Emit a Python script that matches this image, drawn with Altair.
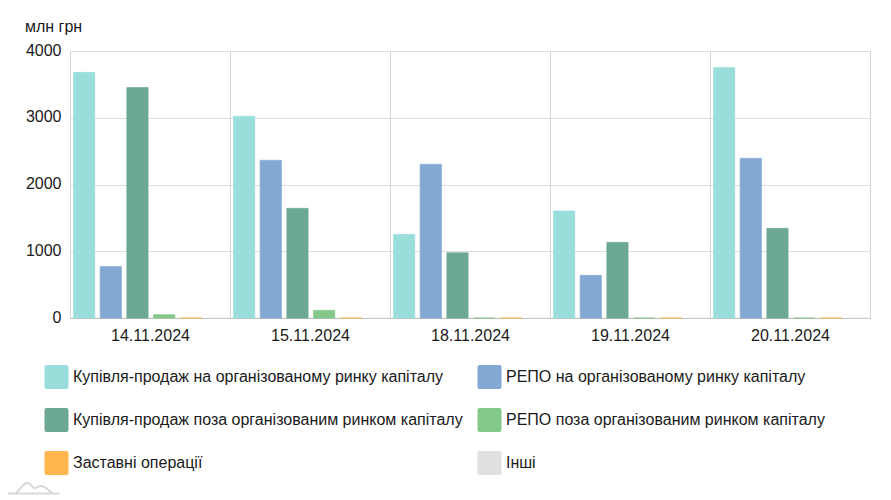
import altair as alt
import pandas as pd

dates = ["14.11.2024", "15.11.2024", "18.11.2024", "19.11.2024", "20.11.2024"]
series = [
    "Купівля-продаж на організованому ринку капіталу",
    "РЕПО на організованому ринку капіталу",
    "Купівля-продаж поза організованим ринком капіталу",
    "РЕПО поза організованим ринком капіталу",
    "Заставні операції",
    "Інші",
]
colors = ["#9adedc", "#84a8d4", "#6ba995", "#84c888", "#ffb74d", "#e0e0e0"]
values = [
    [3680, 3023, 1253, 1603, 3753],
    [773, 2363, 2303, 640, 2393],
    [3453, 1643, 978, 1133, 1343],
    [50, 115, 1, 1, 1],
    [1, 1, 1, 1, 1],
    [0, 0, 0, 0, 0],
]

rows = [
    {"date": d, "series": s, "value": v}
    for s, vals in zip(series, values)
    for d, v in zip(dates, vals)
]
df = pd.DataFrame(rows)

FONT = "Liberation Sans"
TEXT = "#1a1a1a"
ROUNDED = "M-0.83,-1 H0.83 Q1,-1 1,-0.83 V0.83 Q1,1 0.83,1 H-0.83 Q-1,1 -1,0.83 V-0.83 Q-1,-1 -0.83,-1 Z"
LOGO = ("M-1,0.2 H1 M-0.63,0.19 C-0.45,0.1 -0.35,-0.2 -0.185,-0.196 "
        "C-0.05,-0.19 -0.02,0 0.07,0 C0.15,0 0.22,-0.07 0.33,-0.07 C0.48,-0.07 0.58,0.1 0.74,0.19")

bars = alt.Chart(df).mark_bar(strokeOpacity=0.6, strokeWidth=1).encode(
    x=alt.X(
        "date:N",
        sort=dates,
        title=None,
        scale=alt.Scale(paddingInner=0, paddingOuter=0),
        axis=alt.Axis(
            labelAngle=0,
            labelFont=FONT,
            labelFontSize=16,
            labelColor=TEXT,
            labelPadding=9,
            tickSize=0,
            tickBand="extent",
            grid=True,
            gridColor="#d4d4d4",
            domainColor="#bdbdbd",
        ),
    ),
    xOffset=alt.XOffset(
        "series:N",
        sort=series,
        scale=alt.Scale(paddingInner=0.2, paddingOuter=0.1, range=[0.8, 160.8]),
    ),
    y=alt.Y(
        "value:Q",
        scale=alt.Scale(domain=[0, 4000], nice=False),
        axis=alt.Axis(
            values=[0, 1000, 2000, 3000, 4000],
            format="d",
            title="млн грн",
            titleAngle=0,
            titleFont=FONT,
            titleFontSize=16,
            titleFontWeight="normal",
            titleColor=TEXT,
            titleAlign="left",
            titleBaseline="middle",
            titleX=-45.5,
            titleY=-25,
            labelFont=FONT,
            labelFontSize=16,
            labelColor=TEXT,
            labelPadding=9,
            labelOffset=-1,
            tickSize=0,
            grid=True,
            gridColor="#dddddd",
            domain=False,
        ),
    ),
    stroke=alt.Stroke(
        "series:N",
        sort=series,
        scale=alt.Scale(domain=series, range=colors),
        legend=None,
    ),
    fill=alt.Fill(
        "series:N",
        sort=series,
        scale=alt.Scale(domain=series, range=colors),
        legend=alt.Legend(
            orient="none",
            direction="horizontal",
            legendX=-25.5,
            legendY=314,
            title=None,
            columns=2,
            columnPadding=14,
            rowPadding=19,
            gridAlign="each",
            symbolType=ROUNDED,
            symbolSize=576,
            symbolStrokeWidth=0,
            symbolOpacity=1,
            labelFont=FONT,
            labelFontSize=16,
            labelColor=TEXT,
            labelOffset=4.5,
            labelLimit=500,
        ),
    ),
)

logo = alt.Chart(pd.DataFrame({"mark": [0]})).mark_point(
    filled=False, stroke="#d8d8d8", strokeWidth=2, opacity=1
).encode(
    x=alt.value(-37.5),
    y=alt.value(437),
    shape=alt.value(LOGO),
    size=alt.value(2916),
)

chart = (
    alt.layer(bars, logo)
    .properties(
        width=800,
        height=267,
        autosize=alt.AutoSizeParams(type="none"),
        padding={"left": 62, "top": 43, "right": 13, "bottom": 181},
    )
    .configure_view(stroke="#d8d8d8")
)

chart.save("out.html", embed_options={"renderer": "svg", "actions": False})
